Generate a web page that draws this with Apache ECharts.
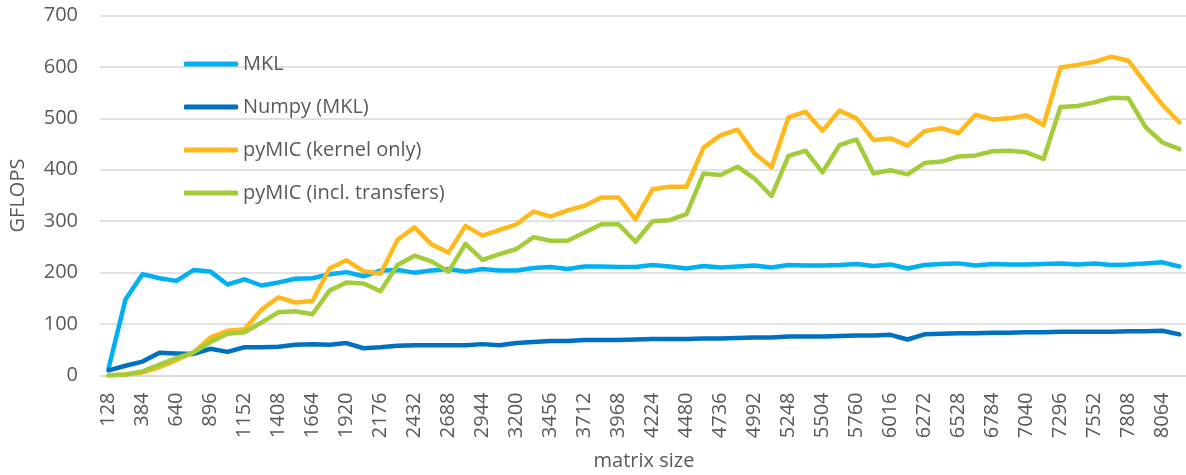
<!DOCTYPE html>
<html>
<head>
<meta charset="utf-8">
<script src="https://cdn.jsdelivr.net/npm/echarts@6/dist/echarts.min.js"></script>
<style>
html,body{margin:0;padding:0;background:#fff;}
#c{width:1186px;height:475px;}
</style>
</head>
<body>
<div id="c"></div>
<script>
// matrix sizes 128..8192 step 128 (listed explicitly)
const categories = [
  '128','256','384','512','640','768','896','1024','1152','1280','1408','1536','1664','1792','1920','2048',
  '2176','2304','2432','2560','2688','2816','2944','3072','3200','3328','3456','3584','3712','3840','3968','4096',
  '4224','4352','4480','4608','4736','4864','4992','5120','5248','5376','5504','5632','5760','5888','6016','6144',
  '6272','6400','6528','6656','6784','6912','7040','7168','7296','7424','7552','7680','7808','7936','8064','8192'
];
const mkl = [
  13,148,197,189,184,205,202,177,187,175,181,188,189,197,201,193,
  204,205,200,204,207,202,207,204,204,209,211,207,212,212,211,211,
  215,212,208,213,210,212,214,210,215,214,214,215,217,213,216,208,
  215,217,218,214,217,216,216,217,218,216,218,215,216,218,220,212
];
const numpy = [
  10,19,27,44,43,42,52,46,55,55,56,60,61,60,63,53,
  55,58,59,59,59,59,61,59,63,65,67,67,69,69,69,70,
  71,71,71,72,72,73,74,74,76,76,76,77,78,78,79,70,
  80,81,82,82,83,83,84,84,85,85,85,85,86,86,87,80
];
const kernelOnly = [
  0,2,6,16,30,45,74,87,90,128,152,142,145,208,224,203,
  198,264,288,255,239,291,272,283,294,319,309,321,330,346,346,304,
  362,367,367,443,467,478,432,405,502,513,476,515,500,458,461,447,
  475,481,471,507,498,500,506,487,599,604,610,620,612,568,526,492
];
const inclTransfers = [
  0,2,8,21,34,45,65,81,84,103,123,125,119,165,181,179,
  164,215,233,222,202,256,225,236,246,269,262,262,278,294,294,260,
  300,302,314,393,390,406,383,349,427,437,395,448,459,393,399,391,
  413,416,426,428,436,437,434,421,522,524,531,540,539,483,453,440
];
const seriesNames = ['MKL','Numpy (MKL)','pyMIC (kernel only)','pyMIC (incl. transfers)'];
const seriesColors = ['#00B0F0','#0070C0','#FFB91D','#A2CC3A'];
const seriesData = [mkl, numpy, kernelOnly, inclTransfers];

const FONT = 'Open Sans';
const TXT = '#595959';

const chart = echarts.init(document.getElementById('c'), null, {renderer:'canvas'});
chart.setOption({
  animation: false,
  backgroundColor: '#ffffff',
  textStyle: {fontFamily: FONT},
  grid: {left: 100, top: 15.5, width: 1088, height: 360, containLabel: false, outerBoundsMode: 'none'},
  legend: {
    orient: 'vertical',
    left: 179,
    top: 49,
    itemWidth: 54,
    itemHeight: 5,
    itemGap: 23,
    icon: 'roundRect',
    textStyle: {fontFamily: FONT, fontSize: 20, color: TXT, lineHeight: 20},
    data: seriesNames
  },
  xAxis: {
    type: 'category',
    data: categories,
    boundaryGap: true,
    name: 'matrix size',
    nameLocation: 'middle',
    nameGap: 76,
    nameTextStyle: {fontFamily: FONT, fontSize: 20, color: TXT},
    axisLine: {show: true, lineStyle: {color: '#D9D9D9', width: 1.5}},
    axisTick: {show: false},
    axisLabel: {interval: 1, rotate: 90, margin: 17, fontFamily: FONT, fontSize: 20, color: TXT}
  },
  yAxis: {
    type: 'value',
    min: 0, max: 700, interval: 100,
    name: 'GFLOPS',
    nameLocation: 'middle',
    nameGap: 72,
    nameTextStyle: {fontFamily: FONT, fontSize: 20, color: TXT},
    axisLine: {show: false},
    axisTick: {show: false},
    axisLabel: {margin: 22, fontFamily: FONT, fontSize: 20, color: TXT},
    splitLine: {lineStyle: {color: '#D9D9D9', width: 1.5}}
  },
  series: seriesNames.map((n, k) => ({
    name: n,
    type: 'line',
    data: seriesData[k],
    symbol: 'none',
    color: seriesColors[k],
    lineStyle: {width: 4.5, color: seriesColors[k], cap: 'round', join: 'round'}
  }))
});
</script>
</body>
</html>
